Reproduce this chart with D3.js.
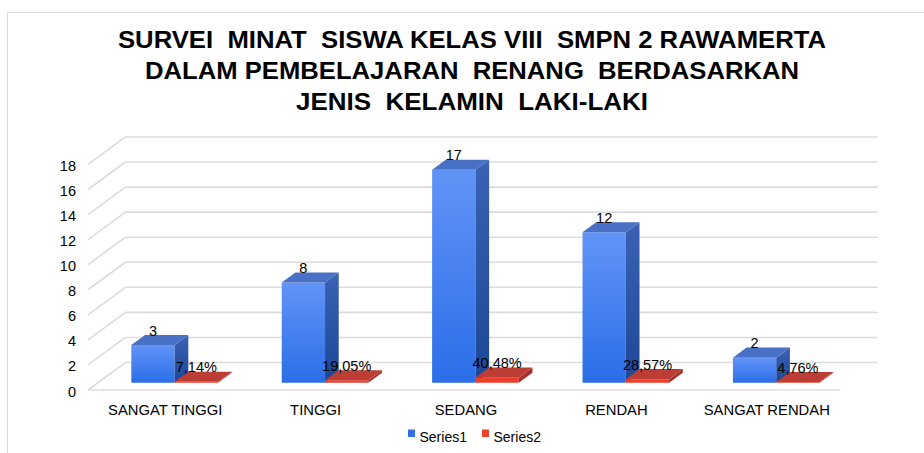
<!DOCTYPE html>
<html>
<head>
<meta charset="utf-8">
<script src="https://cdn.jsdelivr.net/npm/d3@7"></script>
<style>
  body { margin: 0; background: #fff; }
  svg { display: block; font-family: "Liberation Sans", Arial, sans-serif; }
</style>
</head>
<body>
<svg id="chart" width="924" height="453"></svg>
<script>
// chart data
const categories = ["SANGAT TINGGI", "TINGGI", "SEDANG", "RENDAH", "SANGAT RENDAH"];
const series1 = [3, 8, 17, 12, 2];
const series2 = [0.0714, 0.1905, 0.4048, 0.2857, 0.0476];
const seriesNames = ["Series1", "Series2"];
const yTicks = [0, 2, 4, 6, 8, 10, 12, 14, 16, 18];
const titleLines = [
    "SURVEI  MINAT  SISWA KELAS VIII  SMPN 2 RAWAMERTA",
    "DALAM PEMBELAJARAN  RENANG  BERDASARKAN",
    "JENIS  KELAMIN  LAKI-LAKI"
];
const titleWidths = [708, 654, 352];

const config = {
    floorLeft: 88, floorRight: 840, floorY: 390,
    depthX: 37.5, depthY: 27.5,
    z0: 0.265, z1: 0.63
};

const svg = d3.select("#chart");

// frame around chart
svg.append("path")
    .attr("d", "M7.5,460 V12.5 H930")
    .attr("fill", "none")
    .attr("stroke", "#d9d9d9");

// title
svg.append("g").selectAll("text")
    .data(titleLines)
    .join("text")
    .attr("x", 472)
    .attr("y", (d, i) => 47.5 + i * 31.2)
    .attr("text-anchor", "middle")
    .attr("font-size", "24px")
    .attr("font-weight", "bold")
    .attr("fill", "#000")
    .attr("textLength", (d, i) => titleWidths[i])
    .attr("lengthAdjust", "spacingAndGlyphs")
    .style("white-space", "pre")
    .text(d => d);

// scales
const yScale = d3.scaleLinear()
    .domain([0, 18])
    .range([config.floorY, config.floorY - 18 * 12.53]);

const xScale = d3.scaleBand()
    .domain(categories)
    .range([config.floorLeft, config.floorRight])
    .paddingInner(0.424)
    .paddingOuter(0.212);

const xSub = d3.scaleBand()
    .domain(seriesNames)
    .range([0, xScale.bandwidth()]);

// project a point (x, value, depth) onto the screen
const px = (x, z) => x + z * config.depthX;
const py = (v, z) => yScale(v) - z * config.depthY;
const barShift = 1.5;

// walls / gridlines
const grid = svg.append("g")
    .attr("stroke", "#dcdcdc")
    .attr("stroke-width", 1.6)
    .attr("fill", "none");

grid.selectAll(".back")
    .data(yTicks)
    .join("line")
    .attr("x1", px(config.floorLeft, 1))
    .attr("x2", px(config.floorRight, 1))
    .attr("y1", d => py(d, 1))
    .attr("y2", d => py(d, 1));

grid.selectAll(".side")
    .data(yTicks)
    .join("line")
    .attr("x1", px(config.floorLeft, 0))
    .attr("x2", px(config.floorLeft, 1))
    .attr("y1", d => py(d, 0))
    .attr("y2", d => py(d, 1));

grid.append("line")
    .attr("x1", config.floorLeft)
    .attr("x2", config.floorRight)
    .attr("y1", py(0, 0))
    .attr("y2", py(0, 0));

// y axis labels
svg.append("g").selectAll("text")
    .data(yTicks)
    .join("text")
    .attr("x", 76)
    .attr("y", d => py(d, 0) + 6.5)
    .attr("text-anchor", "end")
    .attr("font-size", "14.5px")
    .attr("fill", "#000")
    .text(d => d);

// gradients
const defs = svg.append("defs");
function vGrad(id, top, bottom) {
    const g = defs.append("linearGradient")
        .attr("id", id)
        .attr("x1", 0).attr("y1", 0).attr("x2", 0).attr("y2", 1);
    g.append("stop").attr("offset", "0%").attr("stop-color", top);
    g.append("stop").attr("offset", "100%").attr("stop-color", bottom);
}
vGrad("blueFront", "#6294f6", "#2a6ee8");
vGrad("blueSide", "#3b62b4", "#1c4796");

const styles = {
    Series1: { front: "url(#blueFront)", side: "url(#blueSide)", top: "#4870c4" },
    Series2: { front: "#ec3f2c", side: "#a8302a", top: "#bb3d34" }
};

// bars
const barData = [];
categories.forEach((c, i) => {
    barData.push({ cat: c, series: "Series1", value: series1[i] });
    barData.push({ cat: c, series: "Series2", value: series2[i] });
});

const bars = svg.append("g").selectAll("g")
    .data(barData)
    .join("g");

bars.each(function (d) {
    const g = d3.select(this);
    const x0 = xScale(d.cat) + xSub(d.series) + barShift;
    const x1 = x0 + xSub.bandwidth();
    const z0 = config.z0, z1 = config.z1;
    const st = styles[d.series];
    const poly = pts => pts.map(p => p.join(",")).join(" ");

    // front face
    g.append("polygon")
        .attr("points", poly([
            [px(x0, z0), py(d.value, z0)], [px(x1, z0), py(d.value, z0)],
            [px(x1, z0), py(0, z0)], [px(x0, z0), py(0, z0)]
        ]))
        .attr("fill", st.front);

    // right side face
    g.append("polygon")
        .attr("points", poly([
            [px(x1, z0), py(d.value, z0)], [px(x1, z1), py(d.value, z1)],
            [px(x1, z1), py(0, z1)], [px(x1, z0), py(0, z0)]
        ]))
        .attr("fill", st.side);

    // top face
    g.append("polygon")
        .attr("points", poly([
            [px(x0, z0), py(d.value, z0)], [px(x1, z0), py(d.value, z0)],
            [px(x1, z1), py(d.value, z1)], [px(x0, z1), py(d.value, z1)]
        ]))
        .attr("fill", st.top);
});

// value labels
const fmtPct = v => (v * 100).toFixed(2).replace(".", ",") + "%";
svg.append("g").selectAll("text")
    .data(barData)
    .join("text")
    .attr("x", d => px(xScale(d.cat) + xSub(d.series) + xSub.bandwidth() / 2 + barShift, config.z0))
    .attr("y", d => py(d.value, config.z1) + 0.5)
    .attr("text-anchor", "middle")
    .attr("font-size", "14.5px")
    .attr("fill", "#000")
    .text(d => d.series === "Series1" ? d.value : fmtPct(d.value));

// x axis labels
svg.append("g").selectAll("text")
    .data(categories)
    .join("text")
    .attr("x", d => xScale(d) + xScale.bandwidth() / 2 + 2)
    .attr("y", 414.5)
    .attr("text-anchor", "middle")
    .attr("font-size", "14.8px")
    .attr("fill", "#000")
    .text(d => d);

// legend
const legendColors = { Series1: "#2f6fe8", Series2: "#ec3f2c" };
const legend = svg.append("g").selectAll("g")
    .data(seriesNames)
    .join("g")
    .attr("transform", (d, i) => `translate(${408 + i * 74},0)`);

legend.append("rect")
    .attr("x", 0)
    .attr("y", 429.5)
    .attr("width", 7)
    .attr("height", 7.5)
    .attr("fill", d => legendColors[d]);

legend.append("text")
    .attr("x", 11.5)
    .attr("y", 441.5)
    .attr("font-size", "14px")
    .attr("fill", "#000")
    .text(d => d);
</script>
</body>
</html>
